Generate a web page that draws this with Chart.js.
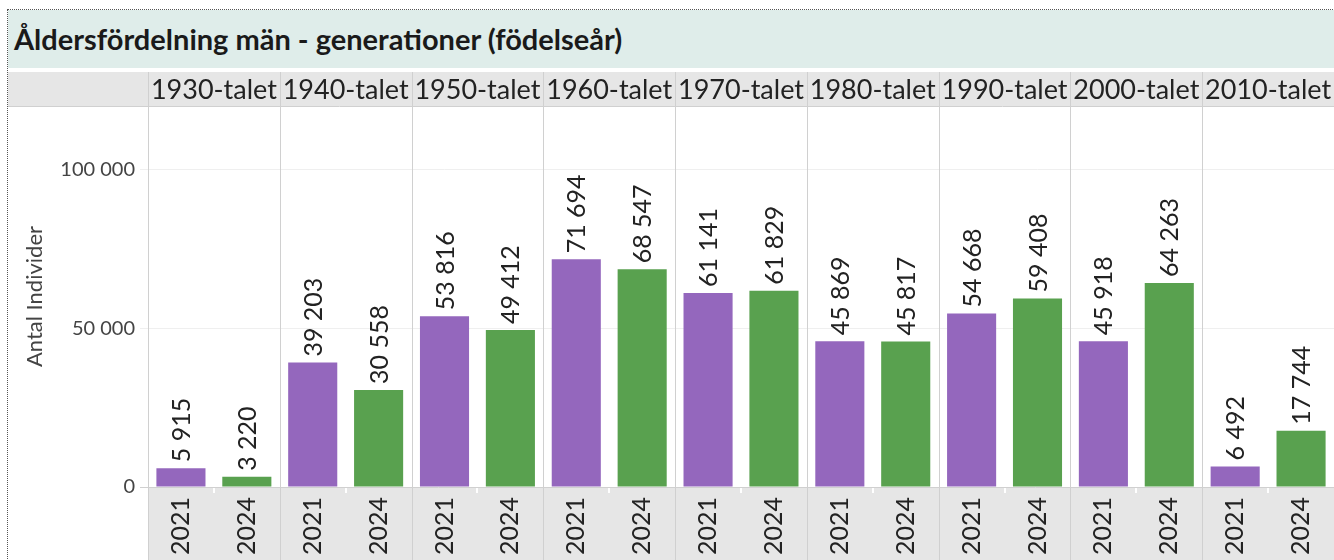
<!DOCTYPE html>
<html lang="sv">
<head>
<meta charset="utf-8">
<title>Åldersfördelning män</title>
<script src="https://cdn.jsdelivr.net/npm/chart.js@4.4.1/dist/chart.umd.min.js"></script>
<style>
  html, body { margin: 0; padding: 0; background: #fff; overflow: hidden; }
  #frame { position: absolute; left: 7px; top: 9px; width: 1400px; height: 600px; border: 1px dotted #555; }
  #title {
    position: absolute; left: 8px; top: 10px; width: 1326px; height: 58px;
    background: #DFEDEA; font-family: Lato, "Open Sans", sans-serif; font-weight: bold;
    font-size: 29px; line-height: 58px; padding-left: 6px; box-sizing: border-box; color: #1a1a1a;
  }
  #wrap { position: absolute; left: 0; top: 0; }
</style>
</head>
<body>
<div id="frame"></div>
<div id="wrap"><canvas id="ageChart" width="1334" height="560"></canvas></div>
<div id="title">Åldersfördelning män - generationer (födelseår)</div>
<script>
// decades (panels) and years (bars inside each panel)
const decades = ['1930-talet', '1940-talet', '1950-talet', '1960-talet', '1970-talet', '1980-talet', '1990-talet', '2000-talet', '2010-talet'];
const years = ['2021', '2024'];
const values2021 = [5915, 39203, 53816, 71694, 61141, 45869, 54668, 45918, 6492];
const values2024 = [3220, 30558, 49412, 68547, 61829, 45817, 59408, 64263, 17744];
const yTicks = [0, 50000, 100000];

const FONT = 'Lato, "Open Sans", sans-serif';
const PURPLE = '#9467BD';
const GREEN = '#59A14F';

// flatten into one bar per (decade, year)
const labels = [];
const values = [];
const colors = [];
decades.forEach((d, i) => {
  labels.push(years[0]); values.push(values2021[i]); colors.push(PURPLE);
  labels.push(years[1]); values.push(values2024[i]); colors.push(GREEN);
});

function fmt(n) {
  return String(n).replace(/\B(?=(\d{3})+(?!\d))/g, ' ');
}

// header band, axis band, panel dividers, decade titles, bar labels
const panelPlugin = {
  id: 'panels',
  beforeDraw(chart) {
    const { ctx, chartArea } = chart;
    ctx.save();
    ctx.fillStyle = '#E6E6E6';
    ctx.fillRect(8, 72, chart.width - 8, chartArea.top - 72);
    ctx.fillRect(chartArea.left, chartArea.bottom, chart.width - chartArea.left, chart.height - chartArea.bottom);
    ctx.restore();
  },
  beforeDatasetsDraw(chart) {
    const { ctx, chartArea, scales } = chart;
    const x = scales.x;
    const step = (chartArea.right - chartArea.left) / labels.length;
    ctx.save();
    // small white ticks between years
    ctx.strokeStyle = '#ffffff';
    ctx.lineWidth = 2;
    for (let i = 0; i < decades.length; i++) {
      const xm = Math.round(x.getPixelForValue(i * 2) + step / 2);
      ctx.beginPath();
      ctx.moveTo(xm, chartArea.bottom + 1);
      ctx.lineTo(xm, chartArea.bottom + 6);
      ctx.stroke();
    }
    ctx.strokeStyle = '#D0D0D0';
    ctx.lineWidth = 1;
    for (let i = 0; i < decades.length; i++) {
      const xl = Math.round(x.getPixelForValue(i * 2) - step / 2) + 0.5;
      ctx.beginPath();
      ctx.moveTo(xl, 72);
      ctx.lineTo(xl, chart.height);
      ctx.stroke();
    }
    ctx.beginPath();
    ctx.moveTo(140, chartArea.bottom + 0.5);
    ctx.lineTo(chart.width, chartArea.bottom + 0.5);
    ctx.stroke();
    ctx.beginPath();
    ctx.moveTo(8, chartArea.top + 0.5);
    ctx.lineTo(chart.width, chartArea.top + 0.5);
    ctx.stroke();
    // decade titles
    ctx.fillStyle = '#222';
    ctx.font = '27px ' + FONT;
    ctx.textAlign = 'center';
    ctx.textBaseline = 'middle';
    decades.forEach((d, i) => {
      const xc = x.getPixelForValue(i * 2) + step / 2;
      ctx.fillText(d, xc, 90);
    });
    ctx.restore();
  },
  afterDatasetsDraw(chart) {
    const { ctx } = chart;
    const meta = chart.getDatasetMeta(0);
    ctx.save();
    ctx.fillStyle = '#222';
    ctx.font = '25px ' + FONT;
    ctx.textAlign = 'left';
    ctx.textBaseline = 'middle';
    meta.data.forEach((bar, i) => {
      ctx.save();
      ctx.translate(bar.x + 1, bar.y - 6);
      ctx.rotate(-Math.PI / 2);
      ctx.fillText(fmt(values[i]), 0, 0);
      ctx.restore();
    });
    ctx.restore();
  }
};

const chart = new Chart(document.getElementById('ageChart'), {
  type: 'bar',
  data: {
    labels: labels,
    datasets: [{
      label: 'Antal Individer',
      data: values,
      backgroundColor: colors,
      borderWidth: 0,
      barPercentage: 0.745,
      categoryPercentage: 1
    }]
  },
  options: {
    responsive: false,
    animation: false,
    layout: { padding: { top: 106, left: 0, right: 0, bottom: 0 } },
    plugins: { legend: { display: false }, tooltip: { enabled: false } },
    scales: {
      x: {
        grid: { display: false, drawTicks: false },
        border: { display: false },
        ticks: {
          minRotation: 90, maxRotation: 90, autoSkip: false, padding: 10,
          color: '#222', font: { family: FONT, size: 25 }
        },
        afterFit(scale) {
          scale.height = 73;
          scale.paddingLeft = 0;
          scale.paddingRight = 0;
        }
      },
      y: {
        min: 0,
        max: 120000,
        border: { display: false },
        grid: { color: '#EFEFEF', tickLength: 8, tickColor: '#EFEFEF' },
        afterBuildTicks(scale) {
          scale.ticks = yTicks.map(v => ({ value: v }));
        },
        ticks: {
          padding: 5,
          color: '#444',
          font: { family: FONT, size: 20 },
          callback: v => fmt(v)
        },
        title: {
          display: true,
          text: 'Antal Individer',
          color: '#444',
          font: { family: FONT, size: 22 },
          padding: { top: 22, bottom: 0 }
        },
        afterFit(scale) {
          scale.width = 148;
          scale.paddingTop = 0;
          scale.paddingBottom = 0;
        }
      }
    }
  },
  plugins: [panelPlugin]
});
</script>
</body>
</html>
